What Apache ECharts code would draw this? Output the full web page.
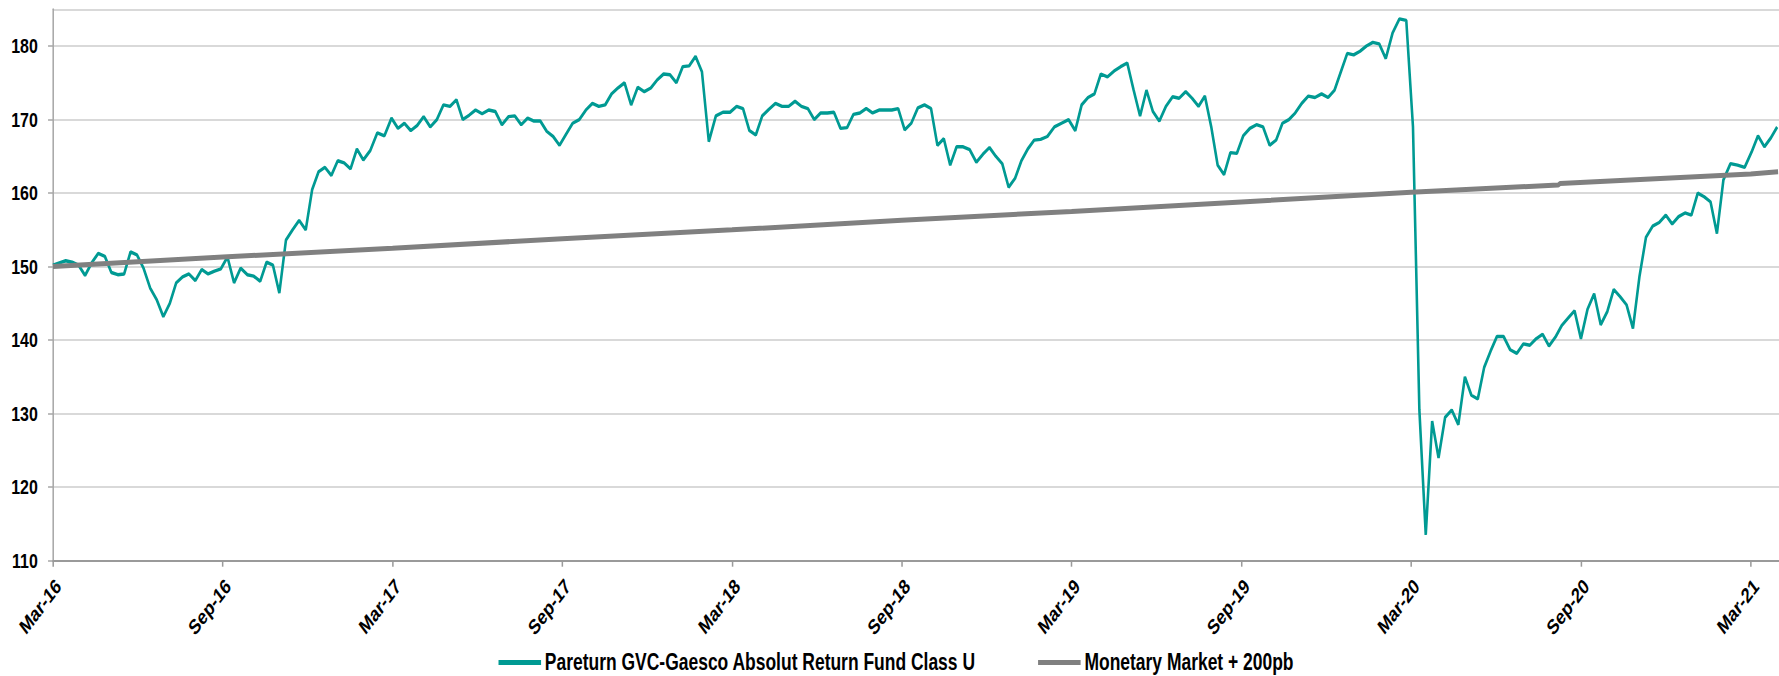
<!DOCTYPE html>
<html><head><meta charset="utf-8">
<script src="https://cdn.jsdelivr.net/npm/echarts@6/dist/echarts.min.js"></script>
<style>
html,body{margin:0;padding:0;background:#fff;overflow:hidden}
#wrap{width:1779px;height:676px;overflow:hidden;position:relative}
#c{width:2341px;height:676px;transform:scaleX(0.75993);transform-origin:0 0;position:absolute;left:0;top:0}
</style>
</head><body><div id="wrap"><div id="c"></div></div>
<script>
// ---- data ----
const tickLabels = ['Mar-16','Sep-16','Mar-17','Sep-17','Mar-18','Sep-18','Mar-19','Sep-19','Mar-20','Sep-20','Mar-21'];
const fundName = 'Pareturn GVC-Gaesco Absolut Return Fund Class U';
const mmName = 'Monetary Market + 200pb';
// weekly NAV, first week 2016-03-01
const fundStart = '2016-03-01';
const fundStepDays = 7;
const fundValues = [
150.2,150.5,150.8,150.6,150.2,148.8,150.5,151.8,151.4,149.2,
148.9,149.0,152.0,151.6,149.8,147.1,145.5,143.2,145.0,147.8,
148.6,149.0,148.1,149.6,149.0,149.4,149.7,151.3,147.8,149.8,
148.9,148.7,148.0,150.6,150.2,146.4,153.6,155.0,156.3,155.0,
160.5,162.9,163.5,162.4,164.4,164.1,163.3,166.0,164.5,165.8,
168.2,167.8,170.2,168.8,169.5,168.5,169.2,170.4,169.0,170.0,
172.0,171.8,172.7,170.0,170.6,171.3,170.8,171.3,171.1,169.3,
170.4,170.5,169.3,170.2,169.8,169.8,168.4,167.7,166.5,168.0,
169.5,170.0,171.3,172.2,171.8,172.0,173.5,174.3,175.0,172.0,
174.4,173.8,174.3,175.4,176.2,176.1,175.0,177.2,177.3,178.6,
176.5,167.0,170.5,171.0,171.0,171.8,171.5,168.5,167.9,170.5,
171.4,172.2,171.8,171.8,172.5,171.8,171.5,170.0,170.9,170.9,
171.0,168.8,168.9,170.7,170.9,171.5,170.9,171.3,171.3,171.3,
171.5,168.6,169.5,171.6,172.0,171.5,166.5,167.4,163.8,166.3,
166.3,165.9,164.2,165.3,166.2,165.0,164.0,160.8,162.0,164.4,
166.0,167.2,167.3,167.7,169.0,169.5,170.0,168.5,172.0,173.0,
173.5,176.2,175.8,176.6,177.2,177.7,174.0,170.5,174.0,171.1,
169.8,171.8,173.1,172.9,173.8,172.9,171.8,173.2,169.0,163.8,
162.5,165.5,165.4,167.8,168.8,169.3,169.0,166.5,167.2,169.5,
170.0,170.9,172.2,173.2,173.0,173.5,173.0,174.0,176.5,179.0,
178.8,179.3,180.0,180.5,180.3,178.3,181.8,183.7,183.5,169.0,
130.5,113.5,129.0,124.0,129.5,130.5,128.5,135.0,132.5,132.0,
136.3,138.5,140.5,140.5,138.7,138.2,139.5,139.3,140.2,140.8,
139.2,140.4,142.0,143.0,144.0,140.2,144.2,146.3,142.1,143.9,
146.9,145.9,144.8,141.6,148.6,154.0,155.5,156.0,157.0,155.8,
156.8,157.3,157.0,160.0,159.5,158.8,154.5,161.8,164.0,163.8,
163.5,165.6,167.8,166.3,167.5,169.0
];
const mmDates = ['2016-03-01','2016-09-01','2017-03-01','2017-09-01','2018-03-01','2018-09-01','2019-03-01','2019-09-01','2020-03-01','2020-08-07','2020-08-09','2021-03-01','2021-03-31'];
const mmValues = [150.0,151.3,152.5,153.8,155.0,156.3,157.5,158.8,160.1,161.1,161.3,162.6,162.9];

// ---- helpers ----
function parseD(s){const p=s.split('-').map(Number);return new Date(Date.UTC(p[0],p[1]-1,p[2]));}
function monthIndex(d){
  const y=d.getUTCFullYear(), mo=d.getUTCMonth(), day=d.getUTCDate();
  const dim=new Date(Date.UTC(y,mo+1,0)).getUTCDate();
  return (y-2016)*12+(mo-2)+(day-1)/dim;
}
const start=parseD(fundStart);
const fundData=fundValues.map((v,i)=>[monthIndex(new Date(start.getTime()+i*fundStepDays*86400000)),v]);
const mmData=mmDates.map((s,i)=>[monthIndex(parseD(s)),mmValues[i]]);

const FONT="'Liberation Sans',Arial,sans-serif";
const GREEN='#009A93', GREY='#808080';

const chart=echarts.init(document.getElementById('c'),null,{renderer:'svg',width:2341,height:676});
chart.setOption({
  backgroundColor:'#ffffff',
  animation:false,
  grid:{left:69.7,right:0,top:9.3,bottom:115.3,containLabel:false,outerBoundsMode:'none'},
  legend:[
    {data:[fundName],left:651,top:645,padding:5,icon:'rect',itemWidth:56,itemHeight:5,
     textStyle:{fontFamily:FONT,fontWeight:'bold',fontSize:23,color:'#000',lineHeight:25}},
    {data:[mmName],left:1361,top:645,padding:5,icon:'rect',itemWidth:56,itemHeight:5,
     textStyle:{fontFamily:FONT,fontWeight:'bold',fontSize:23,color:'#000',lineHeight:25}}
  ],
  xAxis:{
    type:'value',min:0,max:61,interval:6,
    axisLine:{show:true,lineStyle:{color:'#9a9a9a',width:2}},
    axisTick:{show:true,length:6,lineStyle:{color:'#9a9a9a',width:2}},
    splitLine:{show:false},
    axisLabel:{rotate:45,margin:29,showMaxLabel:false,padding:[0,-10,0,0],
      fontFamily:FONT,fontWeight:'bold',fontSize:21,color:'#000',
      formatter:v=>(Math.abs(v/6-Math.round(v/6))<1e-6 && tickLabels[Math.round(v/6)]) ? tickLabels[Math.round(v/6)] : ''}
  },
  yAxis:{
    type:'value',min:110,max:185,interval:10,
    axisLine:{show:true,lineStyle:{color:'#a6a6a6',width:2}},
    axisTick:{show:true,length:6.5,lineStyle:{color:'#a6a6a6',width:1.5}},
    splitLine:{show:true,lineStyle:{color:'#d9d9d9',width:2}},
    axisLabel:{margin:20,showMaxLabel:false,fontFamily:FONT,fontWeight:'bold',fontSize:21,color:'#000',
      formatter:v=>(v%10===0?String(v):'')}
  },
  series:[
    {name:fundName,type:'line',data:fundData,showSymbol:false,symbol:'none',
     itemStyle:{color:GREEN},lineStyle:{color:GREEN,width:3.4},z:2},
    {name:mmName,type:'line',data:mmData,showSymbol:false,symbol:'none',
     itemStyle:{color:GREY},lineStyle:{color:GREY,width:5},z:3}
  ]
});
</script></body></html>
